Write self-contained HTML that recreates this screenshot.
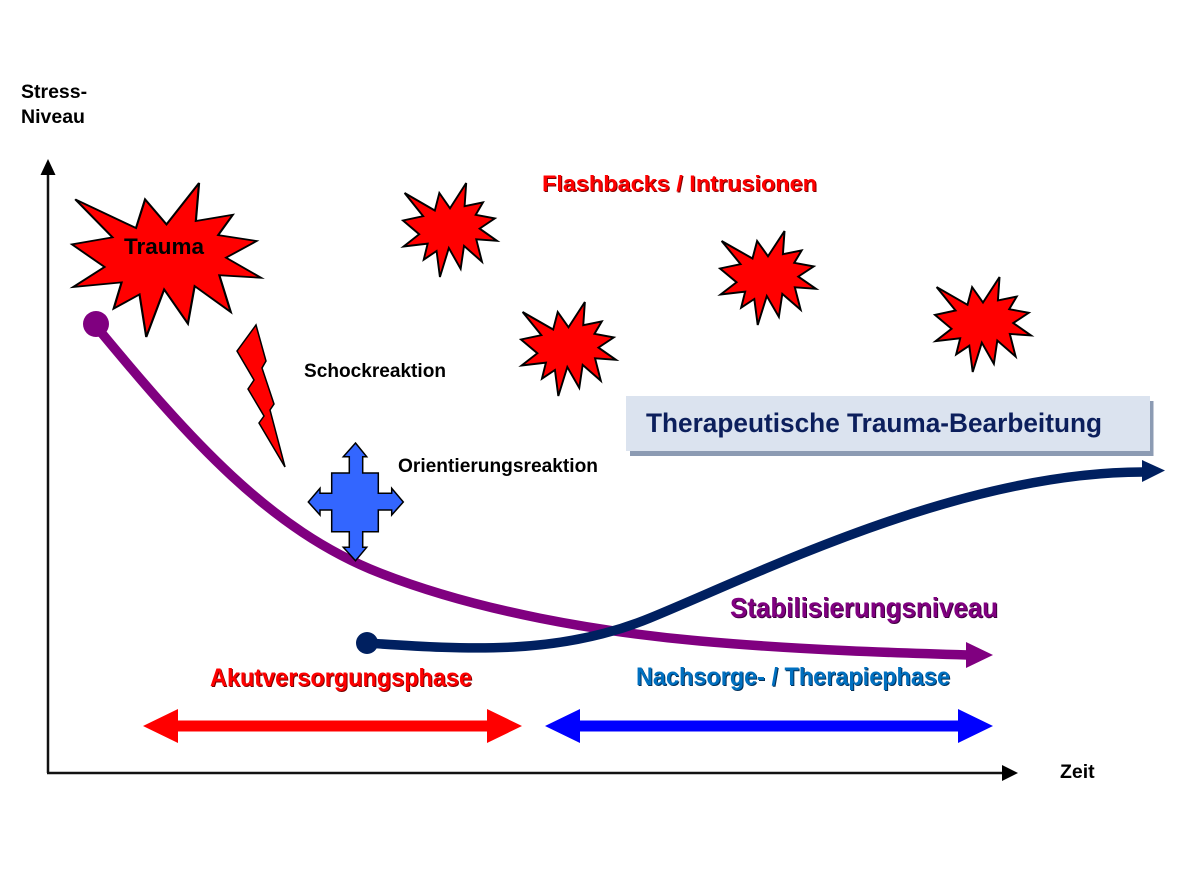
<!DOCTYPE html>
<html>
<head>
<meta charset="utf-8">
<style>
  html,body{margin:0;padding:0;background:#fff;}
  svg{display:block;}
  text{font-family:"Liberation Sans", Arial, sans-serif;}
</style>
</head>
<body>
<svg width="1200" height="890" viewBox="0 0 1200 890" xmlns="http://www.w3.org/2000/svg">
  <defs>
    <path id="seal" d="M10800,5800 L14522,0 L14155,5325 L18380,4457 L16702,7315 L21097,8137 L17607,10475 L21600,13290 L16837,12942 L18145,18095 L14020,14457 L13247,19737 L10532,14935 L8485,21600 L7715,15627 L4762,17617 L5667,13937 L135,14587 L3722,11775 L0,8615 L4627,7617 L370,2295 L7312,6320 L8352,2295 Z"/>
  </defs>
  <rect width="1200" height="890" fill="#fff"/>

  <!-- Axis labels -->
  <text x="21" y="98" font-size="19.5" font-weight="bold" fill="#000">Stress-</text>
  <text x="21" y="123" font-size="19.5" font-weight="bold" fill="#000">Niveau</text>
  <text x="1060" y="778" font-size="19.5" font-weight="bold" fill="#000">Zeit</text>

  <!-- Axes -->
  <line x1="48" y1="773" x2="48" y2="173" stroke="#111" stroke-width="2.5"/>
  <polygon points="48,159 40.5,175 55.5,175" fill="#000"/>
  <line x1="47" y1="773" x2="1004" y2="773" stroke="#111" stroke-width="2.5"/>
  <polygon points="1018,773 1002,765 1002,781" fill="#000"/>

  <!-- Trauma explosion -->
  <g transform="translate(72,183) scale(0.00875,0.00713)" fill="#ff0000" stroke="#000" stroke-width="250" stroke-linejoin="miter">
    <use href="#seal"/>
  </g>
  <text x="124" y="254" font-size="22" font-weight="bold" fill="#000" textLength="80" lengthAdjust="spacingAndGlyphs">Trauma</text>

  <!-- Small explosions -->
  <g transform="translate(403,183) scale(0.004352,0.004352)" fill="#ff0000" stroke="#000" stroke-width="440">
    <use href="#seal"/>
  </g>
  <g transform="translate(521,302) scale(0.004398,0.004352)" fill="#ff0000" stroke="#000" stroke-width="440">
    <use href="#seal"/>
  </g>
  <g transform="translate(720,231) scale(0.004444,0.004352)" fill="#ff0000" stroke="#000" stroke-width="440">
    <use href="#seal"/>
  </g>
  <g transform="translate(935,277) scale(0.004444,0.004398)" fill="#ff0000" stroke="#000" stroke-width="440">
    <use href="#seal"/>
  </g>

  <!-- Flashbacks label -->
  <text x="543" y="192" font-size="22.5" font-weight="bold" fill="#7a0000" textLength="275" lengthAdjust="spacingAndGlyphs">Flashbacks / Intrusionen</text>
  <text x="542" y="191" font-size="22.5" font-weight="bold" fill="#ff0000" textLength="275" lengthAdjust="spacingAndGlyphs">Flashbacks / Intrusionen</text>

  <!-- Lightning bolt -->
  <polygon points="256,325 237,351 254,380 248,389 264,416 259,423 285,467 270,410 274,404 262,368 266,361" fill="#ff0000" stroke="#000" stroke-width="1.5" stroke-linejoin="miter"/>
  <text x="304" y="377" font-size="19" font-weight="bold" fill="#000" textLength="142" lengthAdjust="spacingAndGlyphs">Schockreaktion</text>

  <text x="398" y="472" font-size="19" font-weight="bold" fill="#000" textLength="200" lengthAdjust="spacingAndGlyphs">Orientierungsreaktion</text>

  <!-- Therapeutische box -->
  <rect x="630" y="401" width="523.5" height="55" fill="#8c9bb3"/>
  <rect x="626" y="396" width="524" height="55" fill="#dbe3ef"/>
  <text x="646" y="432" font-size="27" font-weight="bold" fill="#0c1f5c" textLength="456" lengthAdjust="spacingAndGlyphs">Therapeutische Trauma-Bearbeitung</text>

  <!-- Purple curve -->
  <path d="M95,325 C190,440 270,530 380,573 C480,612 600,632 700,641 C800,650 900,653 968,655" fill="none" stroke="#800080" stroke-width="9.5"/>
  <circle cx="96" cy="324" r="13" fill="#800080"/>
  <polygon points="966,642 993,655 966,668" fill="#800080"/>

  <!-- Quad arrow (on top of purple curve) -->
  <polygon points="355.5,443 366.7,456.7 362.7,456.7 362.7,473 378.3,473 378.3,493.3 391.7,493.3 391.7,488.3 403.3,502 391.7,515 391.7,510 378.3,510 378.3,531.7 362.7,531.7 362.7,547.3 366.7,547.3 355.5,560.7 343.3,547.3 349.3,547.3 349.3,531.7 331.7,531.7 331.7,510 320,510 320,515 308.3,502 320,488.3 320,493.3 331.7,493.3 331.7,473 349.3,473 349.3,456.7 343.3,456.7" fill="#3366ff" stroke="#000" stroke-width="1.5" stroke-linejoin="miter"/>

  <!-- Navy curve -->
  <path d="M367,643 C470,650 560,655 650,618 C760,573 960,472 1143,472" fill="none" stroke="#002060" stroke-width="9.5"/>
  <circle cx="367" cy="643" r="11" fill="#002060"/>
  <polygon points="1142,460 1165,470.5 1142,482" fill="#002060"/>

  <!-- Stabilisierungsniveau -->
  <text x="731" y="618" font-size="28" font-weight="bold" fill="#3d003d" textLength="268" lengthAdjust="spacingAndGlyphs">Stabilisierungsniveau</text>
  <text x="730" y="617" font-size="28" font-weight="bold" fill="#800080" textLength="268" lengthAdjust="spacingAndGlyphs">Stabilisierungsniveau</text>

  <!-- Phase labels -->
  <text x="211" y="687" font-size="25" font-weight="bold" fill="#7a0000" textLength="262" lengthAdjust="spacingAndGlyphs">Akutversorgungsphase</text>
  <text x="210" y="686" font-size="25" font-weight="bold" fill="#ff0000" textLength="262" lengthAdjust="spacingAndGlyphs">Akutversorgungsphase</text>
  <text x="637" y="686" font-size="25" font-weight="bold" fill="#00305a" textLength="314" lengthAdjust="spacingAndGlyphs">Nachsorge- / Therapiephase</text>
  <text x="636" y="685" font-size="25" font-weight="bold" fill="#0070c0" textLength="314" lengthAdjust="spacingAndGlyphs">Nachsorge- / Therapiephase</text>

  <!-- Phase double arrows -->
  <polygon points="143,726 178,709 178,720.5 487,720.5 487,709 522,726 487,743 487,731.5 178,731.5 178,743" fill="#ff0000"/>
  <polygon points="545,726 580,709 580,720.5 958,720.5 958,709 993,726 958,743 958,731.5 580,731.5 580,743" fill="#0000ff"/>
</svg>
</body>
</html>
